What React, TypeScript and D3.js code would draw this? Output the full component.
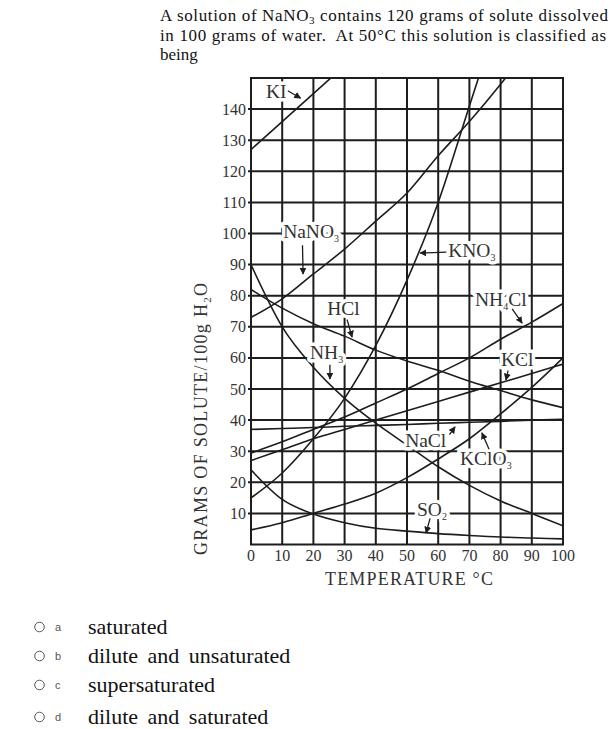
import * as d3 from "d3";

// temperatures (°C) read at every grid line
const temps = [0, 10, 20, 30, 40, 50, 60, 70, 80, 90, 100];

// grams of solute per 100 g water
const kiValues = [127, 136, 145, 154];
const nano3Values = [73, 79, 87, 95, 104, 113, 125, 136, 148, 161];
const kno3Values = [15, 23, 34, 47, 64, 85, 110, 141, 172];
const hclValues = [82, 76, 71, 67, 62.5, 59, 56, 52.5, 49.5, 46.5, 44];
const nh3Values = [90, 70, 57, 47, 39, 32, 25, 19, 14, 10, 6];
const nh4clValues = [29.4, 33, 37, 41, 45.5, 50, 55, 60, 66, 71.5, 77.5];
const kclValues = [27, 30.5, 34, 37, 40, 43, 46, 49, 52, 55, 58];
const naclValues = [37, 37.3, 37.6, 38, 38.3, 38.6, 39, 39.3, 39.6, 40, 40.3];
const kclo3Values = [4.7, 7, 10, 13, 16.5, 21.5, 27.5, 34, 42, 50.5, 60];
const so2Values = [24, 14.5, 9.8, 7, 5.2, 4.3, 3.5, 2.9, 2.4, 2.1, 1.8];

const allSeries = [
  kiValues,
  nano3Values,
  kno3Values,
  hclValues,
  nh3Values,
  nh4clValues,
  kclValues,
  naclValues,
  kclo3Values,
  so2Values,
];

const xTickLabels = [0, 10, 20, 30, 40, 50, 60, 70, 80, 90, 100];
const yTickLabels = [10, 20, 30, 40, 50, 60, 70, 80, 90, 100, 110, 120, 130, 140];

// curve labels: [name, subscript, trailing text]
const labelTexts: [string, string, string][] = [
  ["KI", "", ""],
  ["NaNO", "3", ""],
  ["HCl", "", ""],
  ["NH", "3", ""],
  ["KNO", "3", ""],
  ["NH", "4", "Cl"],
  ["KCl", "", ""],
  ["NaCl", "", ""],
  ["KClO", "3", ""],
  ["SO", "2", ""],
];

const options = ["saturated", "dilute and unsaturated", "supersaturated", "dilute and saturated"];
const optionLetters = ["a", "b", "c", "d"];

// label layout in chart units: text anchor (t, g), arrow tail, arrow tip
const labelLayout = [
  { t: 4.8, g: 143.6, from: [11.8, 145.9], to: [15.9, 143.5] },
  { t: 10.3, g: 98.6, from: [16.5, 96.2], to: [16.7, 87] },
  { t: 24.4, g: 73.8, from: [30.8, 72.3], to: [32.4, 66.7] },
  { t: 18.9, g: 59.6, from: [25.3, 57.8], to: [25.3, 53.2] },
  { t: 63.2, g: 92.4, from: [62.6, 94], to: [54.2, 93.7] },
  { t: 71.8, g: 76.7, from: [83.7, 75.8], to: [86.9, 71.2] },
  { t: 80.1, g: 57.4, from: [82.4, 55.9], to: [81.7, 52.9] },
  { t: 49.4, g: 31.3, from: [63.6, 35.3], to: [65.4, 37.8] },
  { t: 67, g: 25.6, from: [76.3, 30.6], to: [74, 35.9] },
  { t: 53.2, g: 9.2, from: [57.4, 8.4], to: [56.1, 3.7] },
];

const W = 614;
const H = 729;
const ink = "#1d1d1d";
const serif = "'Liberation Serif', 'Times New Roman', serif";

function ChemLabel({ x, y, parts, halo }: { x: number; y: number; parts: [string, string, string]; halo: boolean }) {
  const [a, sub, b] = parts;
  const haloProps = halo
    ? { fill: "#fff", stroke: "#fff", strokeWidth: 7, strokeLinejoin: "round" as const }
    : { fill: "#333" };
  return (
    <text x={x} y={y} fontSize={19.5} {...haloProps}>
      {a}
      {sub && (
        <tspan fontSize={10} dy={4}>
          {sub}
        </tspan>
      )}
      {b && <tspan dy={-4}>{b}</tspan>}
    </text>
  );
}

export default function App() {
  const x = d3.scaleLinear().domain([0, 100]).range([251, 563]);
  const y = d3.scaleLinear().domain([0, 150]).range([544.5, 78]);

  const line = d3
    .line<[number, number]>()
    .x((d) => x(d[0]))
    .y((d) => y(d[1]))
    .curve(d3.curveMonotoneX);

  const gridX = d3.range(10, 100, 10);
  const gridY = d3.range(10, 150, 10);

  return (
    <svg
      width={W}
      height={H}
      style={{ position: "absolute", left: 0, top: 0, background: "#fff" }}
    >
      <defs>
        <clipPath id="plot">
          <rect x={x(0)} y={y(150)} width={x(100) - x(0)} height={y(0) - y(150)} />
        </clipPath>
        <marker
          id="head"
          viewBox="0 0 10 10"
          refX="9"
          refY="5"
          markerWidth="7"
          markerHeight="7"
          orient="auto"
          markerUnits="userSpaceOnUse"
        >
          <path d="M0,0 L10,5 L0,10 Z" fill={ink} />
        </marker>
      </defs>

      {/* question */}
      <g fontFamily={serif} fontSize={17} fill="#111">
        <text x={160} y={21} textLength={448} lengthAdjust="spacing">
          A solution of NaNO<tspan fontSize={11} dy={3}>3</tspan>
          <tspan dy={-3}> contains 120 grams of solute dissolved</tspan>
        </text>
        <text x={160} y={41} textLength={446} lengthAdjust="spacing">
          in 100 grams of water.{"\u00a0"} At 50°C this solution is classified as
        </text>
        <text x={160} y={60}>being</text>
      </g>

      {/* grid */}
      <g stroke={ink} strokeWidth={2}>
        {gridX.map((t) => (
          <line key={"gx" + t} x1={x(t)} x2={x(t)} y1={y(150)} y2={y(0)} />
        ))}
        {gridY.map((g) => (
          <line key={"gy" + g} x1={x(0) - 3} x2={x(100)} y1={y(g)} y2={y(g)} />
        ))}
        <rect
          x={x(0)}
          y={y(150)}
          width={x(100) - x(0)}
          height={y(0) - y(150)}
          fill="none"
        />
      </g>

      {/* curves */}
      <g clipPath="url(#plot)" fill="none" stroke={ink} strokeWidth={1.6}>
        {allSeries.map((vals, i) => (
          <path
            key={i}
            d={line(vals.map((v, j) => [temps[j], v] as [number, number])) || ""}
          />
        ))}
      </g>

      {/* curve labels: white backing first, then the ink */}
      <g fontFamily={serif}>
        {labelTexts.map((p, i) => (
          <ChemLabel key={"h" + i} x={x(labelLayout[i].t)} y={y(labelLayout[i].g)} parts={p} halo />
        ))}
        {labelTexts.map((p, i) => {
          const L = labelLayout[i];
          return (
            <g key={i}>
              <ChemLabel x={x(L.t)} y={y(L.g)} parts={p} halo={false} />
              <line
                x1={x(L.from[0])}
                y1={y(L.from[1])}
                x2={x(L.to[0])}
                y2={y(L.to[1])}
                stroke={ink}
                strokeWidth={1.3}
                markerEnd="url(#head)"
              />
            </g>
          );
        })}
      </g>

      {/* axis tick labels */}
      <g fontFamily={serif} fontSize={16} fill="#333">
        {yTickLabels.map((g) => (
          <text key={"yl" + g} x={246} y={y(g) + 5.5} textAnchor="end">
            {g}
          </text>
        ))}
        {xTickLabels.map((t) => (
          <text key={"xl" + t} x={x(t)} y={561} textAnchor="middle">
            {t}
          </text>
        ))}
      </g>

      {/* axis titles */}
      <text
        x={409}
        y={585}
        textAnchor="middle"
        fontFamily={serif}
        fontSize={18}
        fill="#333"
        textLength={168}
        lengthAdjust="spacing"
      >
        TEMPERATURE °C
      </text>
      <text
        transform={`translate(207, 555) rotate(-90)`}
        fontFamily={serif}
        fontSize={18}
        fill="#333"
        textLength={272}
        lengthAdjust="spacing"
      >
        GRAMS OF SOLUTE/100g H<tspan fontSize={11} dy={4}>2</tspan>
        <tspan dy={-4}>O</tspan>
      </text>

      {/* answer options */}
      {options.map((o, i) => {
        const cy = [627, 656, 685, 717][i];
        return (
          <g key={o}>
            <circle cx={39.5} cy={cy} r={4.8} fill="#fff" stroke="#555" strokeWidth={1} />
            <text
              x={55}
              y={cy + 4}
              fontFamily="'Liberation Sans', Arial, sans-serif"
              fontSize={11}
              fill="#555"
            >
              {optionLetters[i]}
            </text>
            <text
              x={88}
              y={cy + 6.5}
              fontFamily={serif}
              fontSize={22}
              fill="#111"
              wordSpacing={4}
            >
              {o}
            </text>
          </g>
        );
      })}
    </svg>
  );
}
